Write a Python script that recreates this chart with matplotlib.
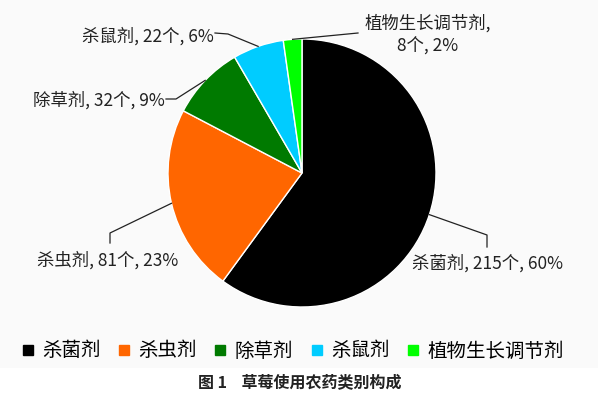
import numpy as np
import matplotlib
matplotlib.use("Agg")
import matplotlib.pyplot as plt
from matplotlib.lines import Line2D
from matplotlib.patches import Rectangle

plt.rcParams['font.family'] = ['Noto Sans CJK SC', 'DejaVu Sans']

categories = ['杀菌剂', '杀虫剂', '除草剂', '杀鼠剂', '植物生长调节剂']
counts = [215, 81, 32, 22, 8]
percents = [60, 23, 9, 6, 2]
colors = ['#000000', '#ff6600', '#007a00', '#00ccff', '#00ff00']

W, H = 598, 400
fig = plt.figure(figsize=(W / 100, H / 100), dpi=100)
fig.patch.set_facecolor('white')
ax = fig.add_axes([0, 0, 1, 1])

# light grey chart area behind pie + legend
ax.add_patch(Rectangle((0, H - 368), W, 368, facecolor='#fafafa', edgecolor='none', zorder=0))

cx, cy, r = 302, H - 173, 134
wedges, _ = ax.pie(counts, colors=colors, startangle=90, counterclock=False,
                   center=(cx, cy), radius=r, frame=True,
                   wedgeprops=dict(edgecolor='white', linewidth=1))
ax.set_xlim(0, W)
ax.set_ylim(0, H)
ax.set_aspect('auto')
ax.axis('off')


def edge_point(w):
    ang = np.deg2rad((w.theta1 + w.theta2) / 2)
    return cx + r * np.cos(ang), cy + r * np.sin(ang)


# elbow points / label anchors in pixel coords (y from top)
layout = [
    dict(path=[(487, 235), (487, 247)], pos=(487, 263), ha='center'),
    dict(path=[(110, 233), (110, 243)], pos=(108, 260), ha='center'),
    dict(path=[(176, 99), (166, 99)], pos=(165, 100), ha='right'),
    dict(path=[(228, 34), (215, 33)], pos=(214, 36), ha='right'),
    dict(path=[(358, 33)], pos=(428, 35), ha='center'),
]

for w, name, n, p, lay in zip(wedges, categories, counts, percents, layout):
    x0, y0 = edge_point(w)
    xs = [x0] + [q[0] for q in lay['path']]
    ys = [y0] + [H - q[1] for q in lay['path']]
    ax.plot(xs, ys, color='#222222', lw=0.9, zorder=3)
    if len(name) > 5:
        txt = f'{name},\n{n}个, {p}%'
    else:
        txt = f'{name}, {n}个, {p}%'
    ax.text(lay['pos'][0], H - lay['pos'][1], txt, ha=lay['ha'], va='center',
            fontsize=12.5, color='#222222', linespacing=1.3)

handles = [Line2D([], [], marker='s', linestyle='none', markersize=7,
                  markerfacecolor=c, markeredgecolor=c) for c in colors]
fig.legend(handles, categories, loc='center', bbox_to_anchor=(293 / W, 1 - 351 / H),
           ncol=5, frameon=False, fontsize=14, handlelength=0.6,
           handletextpad=0.45, columnspacing=0.9, borderpad=0)

fig.text(300 / W, 1 - 383 / H, '图 1    草莓使用农药类别构成', ha='center', va='center',
         fontsize=11.5, fontweight='bold', color='#222222')

fig.savefig('out.png', dpi=100)
